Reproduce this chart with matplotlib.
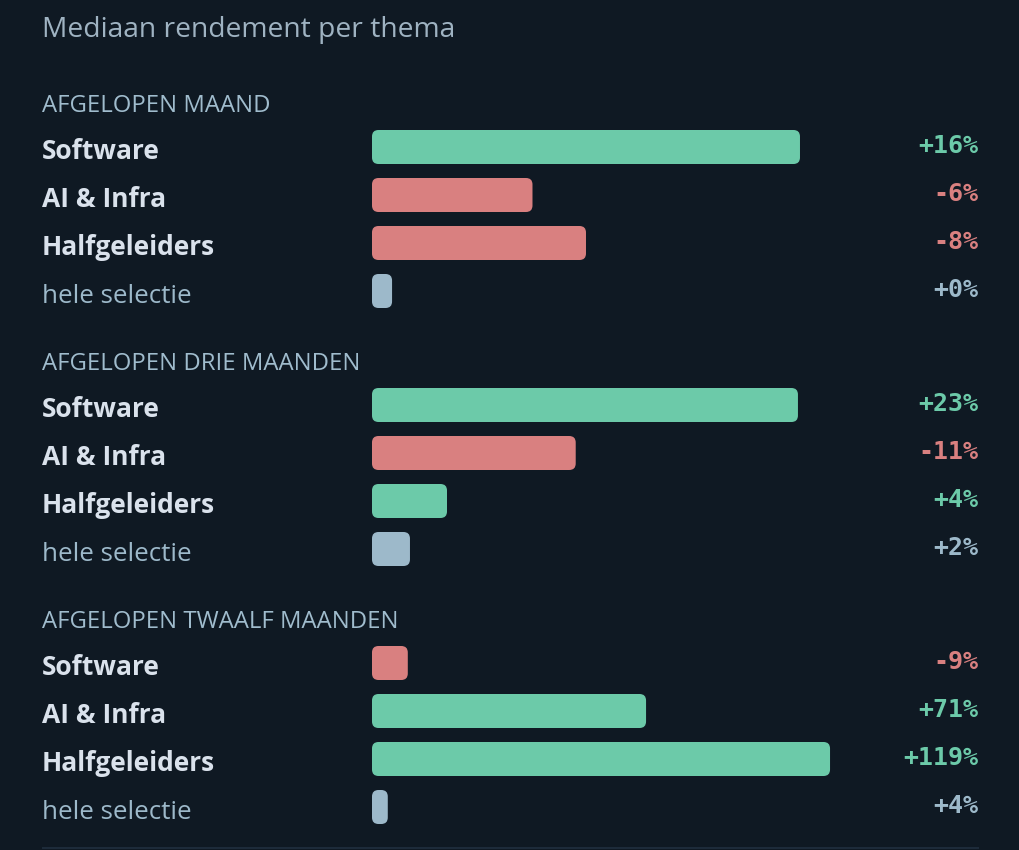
import matplotlib
matplotlib.use("Agg")
import matplotlib.pyplot as plt
from matplotlib.patches import FancyBboxPatch

# ---------------- data ----------------
title = "Mediaan rendement per thema"
periods = ["AFGELOPEN MAAND", "AFGELOPEN DRIE MAANDEN", "AFGELOPEN TWAALF MAANDEN"]
themes = ["Software", "AI & Infra", "Halfgeleiders", "hele selectie"]

month_values = [16.0, -6.0, -8.0, 0.75]
three_month_values = [23.0, -11.0, 4.05, 2.05]
twelve_month_values = [-9.3, 71.2, 119.0, 4.1]

month_labels = ["+16%", "-6%", "-8%", "+0%"]
three_month_labels = ["+23%", "-11%", "+4%", "+2%"]
twelve_month_labels = ["-9%", "+71%", "+119%", "+4%"]

values = [month_values, three_month_values, twelve_month_values]
value_labels = [month_labels, three_month_labels, twelve_month_labels]

# ---------------- style / layout ----------------
W, H = 1020, 850
BG = "#0f1923"
GREEN = "#6ccaa9"
RED = "#d98080"
GREY = "#9db9ca"
LABEL = "#dae2ec"
HEADER = "#a0bccd"
TITLE_C = "#9fb3c2"
LINE_C = "#1d2b3a"

SANS = ["Open Sans", "DejaVu Sans"]
MONO = ["DejaVu Sans Mono"]

LEFT = 42
TRACK_X0, TRACK_X1 = 372, 980
VALUE_X = 978
HEADER_BASE = [112, 370, 628]
ROW_OFFSET = 35
ROW_STEP = 48
BAR_H_PX = 34
RADIUS_PX = 6.5
XMAX = [22.73, 32.83, 157.96]   # axis span of the bar track per section

fig = plt.figure(figsize=(W / 100, H / 100), dpi=100, facecolor=BG)
base = fig.add_axes([0, 0, 1, 1])
base.set_xlim(0, W)
base.set_ylim(H, 0)
base.axis("off")
base.set_facecolor(BG)

base.text(LEFT, 37, title, fontsize=20.3, color=TITLE_C, family=SANS,
          ha="left", va="baseline")

track_w = TRACK_X1 - TRACK_X0
for s, (period, vals, labs) in enumerate(zip(periods, values, value_labels)):
    hb = HEADER_BASE[s]
    base.text(LEFT, hb, period, fontsize=17.2, color=HEADER, family=SANS,
              ha="left", va="baseline")
    row0 = hb + ROW_OFFSET
    top = row0 - ROW_STEP / 2
    n = len(themes)
    ax = fig.add_axes([TRACK_X0 / W, 1 - (top + n * ROW_STEP) / H,
                       track_w / W, n * ROW_STEP / H])
    ax.set_xlim(0, XMAX[s])
    ax.set_ylim(n - 0.5, -0.5)
    ax.axis("off")
    ppx = track_w / XMAX[s]
    ppy = ROW_STEP
    bh = BAR_H_PX / ppy
    for i, (theme, v, lab) in enumerate(zip(themes, vals, labs)):
        total = theme == "hele selectie"
        col = GREY if total else (GREEN if v >= 0 else RED)
        w = abs(v)
        r_px = min(RADIUS_PX, w * ppx / 2 - 0.01)
        patch = FancyBboxPatch((0, i - bh / 2), w, bh,
                               boxstyle=f"round,pad=0,rounding_size={r_px / ppx}",
                               mutation_aspect=ppx / ppy,
                               facecolor=col, edgecolor="none")
        ax.add_patch(patch)
        yc = row0 + i * ROW_STEP
        base.text(LEFT, yc + 12, theme,
                  fontsize=18.6 if total else 19,
                  color=GREY if total else LABEL,
                  fontweight="normal" if total else "bold",
                  family=SANS, ha="left", va="baseline")
        base.text(VALUE_X, yc + 6, lab, fontsize=18, color=col,
                  fontweight="bold", family=MONO, ha="right", va="baseline")

base.plot([LEFT, 979], [848, 848], color=LINE_C, lw=1.5, solid_capstyle="butt")

fig.savefig("out.png", dpi=100, facecolor=BG)
